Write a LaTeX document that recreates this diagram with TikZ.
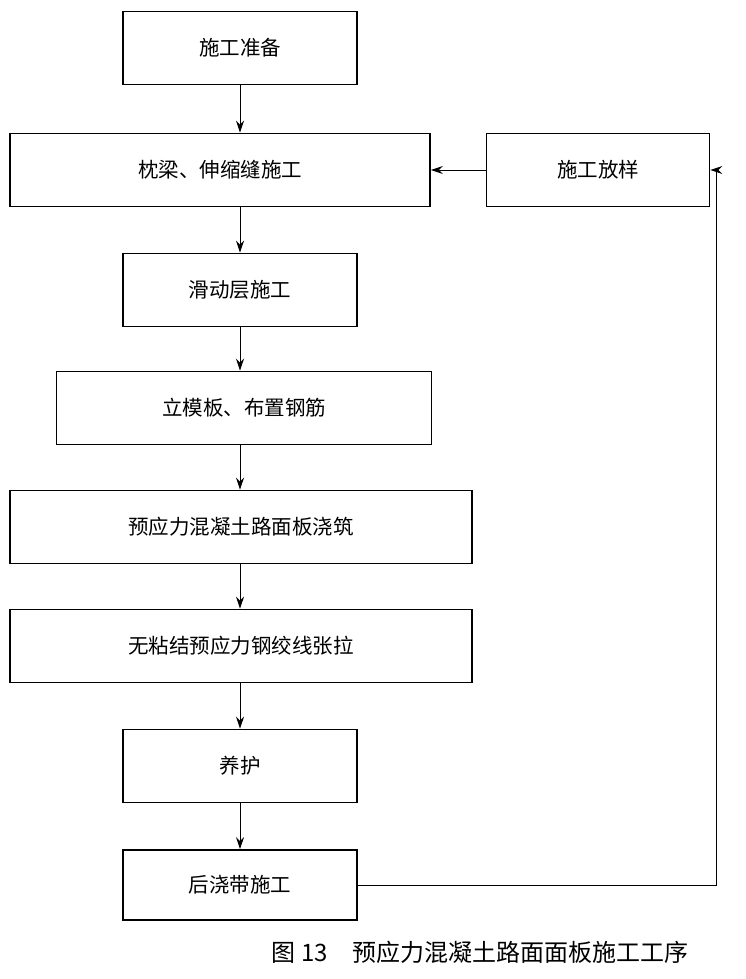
\documentclass[tikz,border=0pt]{standalone}
\usepackage{fontspec}
\setmainfont{Noto Sans CJK SC}
\usetikzlibrary{arrows.meta}
\tikzset{
  stage/.style={draw,line width=1.6pt,minimum height=73pt,inner sep=0pt,font=\fontsize{20.5}{23}\selectfont},
  flow/.style={-{Stealth[length=12pt,width=8pt]},line width=1pt}
}
\begin{document}
\begin{tikzpicture}[x=1pt,y=-1pt]
    \useasboundingbox (0,0) rectangle (746,979);
    % stages
    \node[stage,minimum width=234pt] (prep) at (240,48) {施工准备};
    \node[stage,minimum width=420pt] (beam) at (220,170) {枕梁、伸缩缝施工};
    \node[stage,minimum width=223pt] (stake) at (598,170) {施工放样};
    \node[stage,minimum width=234pt] (slide) at (240,290) {滑动层施工};
    \node[stage,minimum width=375pt] (form) at (244,408) {立模板、布置钢筋};
    \node[stage,minimum width=462pt] (pour) at (241,527) {预应力混凝土路面板浇筑};
    \node[stage,minimum width=462pt] (tens) at (241,646) {无粘结预应力钢绞线张拉};
    \node[stage,minimum width=234pt] (cure) at (240,766) {养护};
    \node[stage,minimum width=234pt,minimum height=70pt] (band) at (240,885) {后浇带施工};
    % caption
    \node[font=\fontsize{24}{27}\selectfont] (cap) at (480,952) {图 13\quad 预应力混凝土路面面板施工工序};
    % arrows
    \draw[flow] (prep.south) -- (beam.north -| prep);
    \draw[flow] (beam.south -| prep) -- (slide.north);
    \draw[flow] (slide.south) -- (form.north -| slide);
    \draw[flow] (form.south -| slide) -- (pour.north -| slide);
    \draw[flow] (pour.south -| slide) -- (tens.north -| slide);
    \draw[flow] (tens.south -| slide) -- (cure.north);
    \draw[flow] (cure.south) -- (band.north);
    \draw[flow] (stake.west) -- (beam.east);
    \coordinate (loop) at (716,885);
    \draw[flow] (band.east) -- (loop) |- (stake.east);
\end{tikzpicture}
\end{document}
